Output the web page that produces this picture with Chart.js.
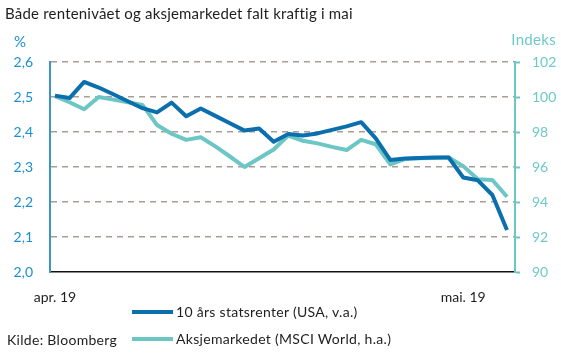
<!DOCTYPE html>
<html>
<head>
<meta charset="utf-8">
<script src="https://cdn.jsdelivr.net/npm/chart.js@4.4.1/dist/chart.umd.min.js"></script>
<style>
  html, body { margin: 0; padding: 0; background: #fff; }
  #wrap { position: relative; width: 561px; height: 353px; font-family: Lato, sans-serif; color: #1e1e1e; }
  #wrap canvas { position: absolute; left: 0; top: 0; }
  .t { position: absolute; white-space: nowrap; line-height: 1; letter-spacing: 0.3px; }
  .sw { position: absolute; height: 4px; width: 41px; }
</style>
</head>
<body>
<div id="wrap">
  <canvas id="chart" width="561" height="353"></canvas>
  <div class="t" style="left:5px;top:6px;font-size:15px;letter-spacing:0.2px;">Både rentenivået og aksjemarkedet falt kraftig i mai</div>
  <div class="t" style="left:14px;top:34px;font-size:15px;color:#1b8fd2;">%</div>
  <div class="t" style="right:5px;top:32px;font-size:15px;color:#6ccaca;">Indeks</div>
  <div class="sw" style="left:132px;top:310px;background:#0b6fae;"></div>
  <div class="t" style="left:176px;top:305px;font-size:14px;">10 års statsrenter (USA, v.a.)</div>
  <div class="sw" style="left:132px;top:337px;background:#6cc6c4;"></div>
  <div class="t" style="left:176px;top:332px;font-size:14px;">Aksjemarkedet (MSCI World, h.a.)</div>
  <div class="t" style="left:7px;top:333px;font-size:14px;">Kilde: Bloomberg</div>
</div>
<script>
// ===========================
// Data (daglige observasjoner)
// ===========================
const dates = [
  '2019-04-15', '2019-04-16', '2019-04-17', '2019-04-18', '2019-04-19',
  '2019-04-22', '2019-04-23', '2019-04-24', '2019-04-25', '2019-04-26',
  '2019-04-29', '2019-04-30', '2019-05-01', '2019-05-02', '2019-05-03',
  '2019-05-06', '2019-05-07', '2019-05-08', '2019-05-09', '2019-05-10',
  '2019-05-13', '2019-05-14', '2019-05-15', '2019-05-16', '2019-05-17',
  '2019-05-20', '2019-05-21', '2019-05-22', '2019-05-23', '2019-05-24',
  '2019-05-27', '2019-05-28'
];

// 10 års statsrenter USA (%), venstre akse
const rate = [
  2.504, 2.497, 2.543, 2.527, 2.508, 2.488, 2.468, 2.456, 2.484, 2.445,
  2.467, 2.446, 2.425, 2.404, 2.410, 2.372, 2.394, 2.390, 2.396, 2.406,
  2.416, 2.428, 2.382, 2.320, 2.324, 2.326, 2.327, 2.327, 2.270, 2.262,
  2.220, 2.120
];

// MSCI World (indeks), høyre akse
const msci = [
  100.05, 99.70, 99.30, 100.00, 99.85, 99.70, 99.55, 98.40, 97.90, 97.55,
  97.70, 97.18, 96.60, 96.00, 96.50, 97.00, 97.80, 97.50, 97.35, 97.15,
  96.97, 97.55, 97.30, 96.15, 96.45, 96.50, 96.52, 96.55, 96.05, 95.30,
  95.26, 94.30
];

const xTickIndex  = [0, 28];
const xTickLabels = ['apr. 19', 'mai. 19'];

const BLUE = '#0b6fae';
const TEAL = '#6cc6c4';
const BLUE_TXT = '#1b8fd2';
const TEAL_TXT = '#6ccaca';
const GRID = '#a79e98';

const fontBase = { family: 'Lato, sans-serif', size: 14 };

const ctx = document.getElementById('chart').getContext('2d');
new Chart(ctx, {
  type: 'line',
  data: {
    datasets: [
      {
        label: '10 års statsrenter (USA, v.a.)',
        data: dates.map((d, i) => ({ x: i, y: rate[i] })),
        borderColor: BLUE,
        borderWidth: 4,
        pointRadius: 0,
        tension: 0,
        yAxisID: 'y',
        borderJoinStyle: 'round',
      },
      {
        label: 'Aksjemarkedet (MSCI World, h.a.)',
        data: dates.map((d, i) => ({ x: i, y: msci[i] })),
        borderColor: TEAL,
        borderWidth: 4,
        pointRadius: 0,
        tension: 0,
        yAxisID: 'y2',
        borderJoinStyle: 'round',
      }
    ]
  },
  options: {
    responsive: false,
    animation: false,
    layout: { padding: { top: 62, left: 0, right: 0, bottom: 0 } },
    plugins: { legend: { display: false }, tooltip: { enabled: false } },
    scales: {
      x: {
        type: 'linear',
        min: -0.34,
        max: 31.55,
        afterBuildTicks: s => { s.ticks = xTickIndex.map(v => ({ value: v })); },
        afterFit: s => { s.height = 81; },
        grid: { display: false },
        border: { display: true, color: '#111', width: 1.5 },
        ticks: {
          color: '#1e1e1e',
          font: fontBase,
          padding: 9,
          maxRotation: 0,
          autoSkip: false,
          callback: (v, i) => xTickLabels[i]
        }
      },
      y: {
        position: 'left',
        min: 2.0,
        max: 2.6,
        afterFit: s => { s.width = 50; },
        grid: {
          color: c => (c.tick && c.tick.value <= 2.0001) ? 'rgba(0,0,0,0)' : GRID,
          lineWidth: 1.5,
          drawTicks: false
        },
        border: { display: true, color: '#3b93c6', width: 2, dash: [6, 5] },
        ticks: {
          stepSize: 0.1,
          color: BLUE_TXT,
          font: fontBase,
          padding: 17,
          callback: v => v.toFixed(1).replace('.', ',')
        }
      },
      y2: {
        position: 'right',
        min: 90,
        max: 102,
        afterFit: s => { s.width = 46; },
        grid: {
          drawOnChartArea: false,
          drawTicks: true,
          tickLength: 5,
          tickColor: TEAL,
          tickWidth: 2,
          color: TEAL
        },
        border: { display: true, color: TEAL, width: 2 },
        ticks: {
          stepSize: 2,
          color: TEAL_TXT,
          font: fontBase,
          padding: 12
        }
      }
    }
  }
});
</script>
</body>
</html>
